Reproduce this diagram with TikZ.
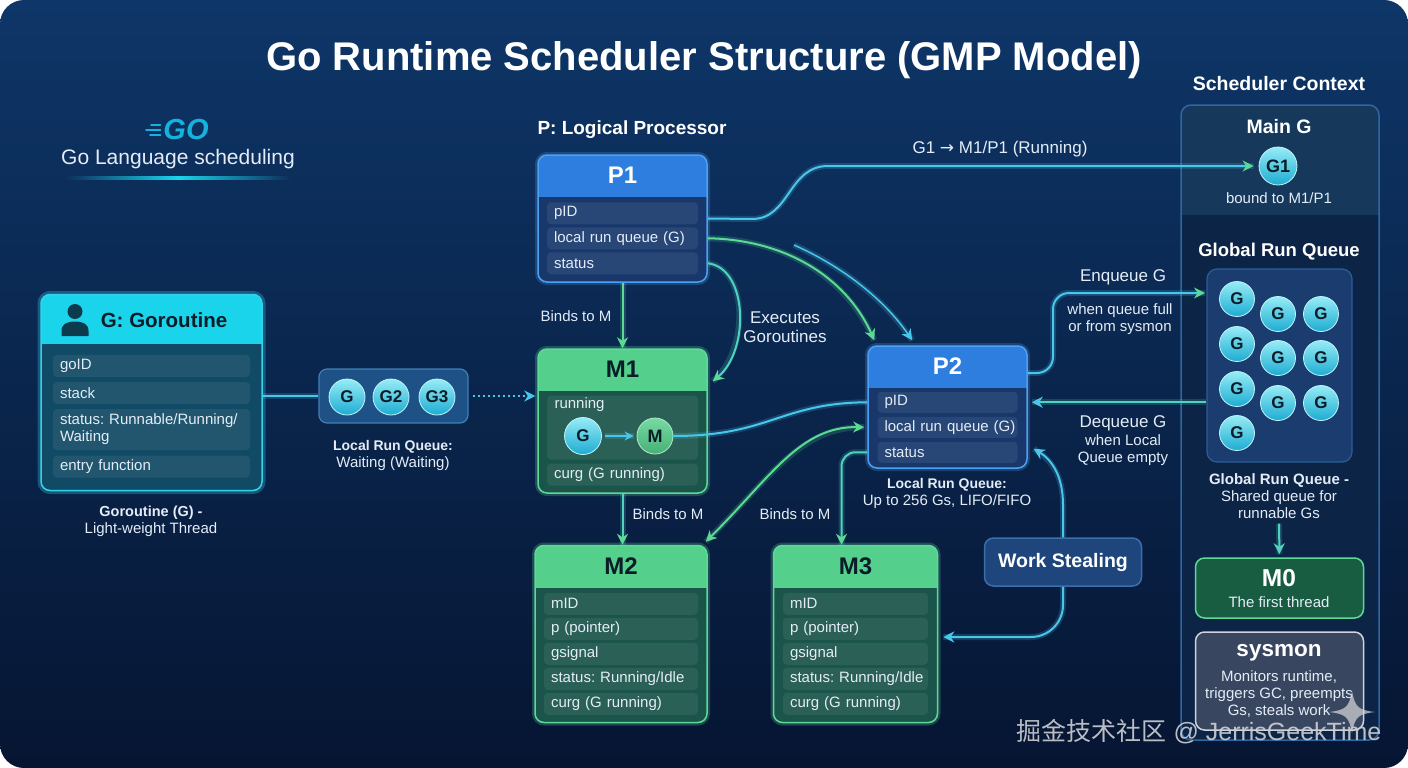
\documentclass[tikz,border=0pt]{standalone}
\usepackage{fontspec}
\setmainfont{Liberation Sans}
\newfontfamily\cjkfont{Noto Sans CJK SC}
\newfontfamily\symbfont{DejaVu Sans}
\usepackage{tikz}
\usetikzlibrary{positioning, arrows.meta, calc}
\frenchspacing

\newcommand\fsz[2]{\fontsize{#1}{#2}\selectfont}

\definecolor{bgtop}{RGB}{14,54,104}
\definecolor{bgbot}{RGB}{6,21,50}
\definecolor{phead}{RGB}{46,126,224}
\definecolor{pbody}{RGB}{24,56,108}
\definecolor{pline}{RGB}{78,160,240}
\definecolor{mhead}{RGB}{84,208,140}
\definecolor{mbody}{RGB}{27,84,74}
\definecolor{mline}{RGB}{94,218,152}
\definecolor{ghead}{RGB}{26,212,236}
\definecolor{gbody}{RGB}{17,74,100}
\definecolor{gborder}{RGB}{54,210,236}
\definecolor{gicon}{RGB}{14,58,78}
\definecolor{darktxt}{RGB}{10,28,40}
\definecolor{fieldtxt}{RGB}{228,237,247}
\definecolor{arrgreen}{RGB}{90,218,146}
\definecolor{arrcyan}{RGB}{74,198,234}
\definecolor{arrteal}{RGB}{80,210,190}
\definecolor{ballhi}{RGB}{150,236,246}
\definecolor{balllo}{RGB}{30,172,210}
\definecolor{gobrand}{RGB}{20,178,220}
\definecolor{lrqbody}{RGB}{30,82,134}
\definecolor{lrqline}{RGB}{64,128,182}
\definecolor{ctxbody}{RGB}{12,36,70}
\definecolor{ctxtop}{RGB}{22,56,90}
\definecolor{ctxline}{RGB}{46,104,164}
\definecolor{grqbody}{RGB}{26,60,110}
\definecolor{grqline}{RGB}{42,94,152}
\definecolor{m0body}{RGB}{24,92,66}
\definecolor{sysbody}{RGB}{56,70,96}
\definecolor{sysline}{RGB}{206,212,222}
\definecolor{stealbody}{RGB}{30,70,124}
\definecolor{stealline}{RGB}{60,110,170}
\definecolor{wmgray}{RGB}{206,208,212}

\tikzset{
    >={Stealth[length=11pt, width=11pt]},
    every node/.style={text=white},
    cardbase/.style={line width=1.5pt, rounded corners=9pt, inner sep=0pt},
    headfill/.style 2 args={path picture={\fill[#1, sharp corners] (path picture bounding box.north west) rectangle ([yshift=-#2]path picture bounding box.north east);}},
    pcard/.style={cardbase, draw=pline, fill=pbody, headfill={phead}{42pt}, preaction={draw=pline, draw opacity=.25, line width=6pt}},
    mcard/.style={cardbase, draw=mline, fill=mbody, headfill={mhead}{42pt}, preaction={draw=mline, draw opacity=.25, line width=6pt}},
    gcard/.style={cardbase, draw=gborder, fill=gbody, headfill={ghead}{49pt}, preaction={draw=gborder, draw opacity=.3, line width=7pt}},
    cardtitle/.style={font=\bfseries\fsz{24}{28}},
    field/.style={fill=white, fill opacity=.07, text opacity=1, rounded corners=4pt, minimum height=22pt, inner xsep=7pt, inner ysep=0pt, text width=#1, align=left, font=\fsz{15}{17}, text=fieldtxt},
    gball/.style={circle, draw=ballhi!60!white, line width=.8pt, top color=ballhi, bottom color=balllo, minimum size=35pt, inner sep=0pt, font=\bfseries\fsz{17}{20}, text=darktxt},
    mball/.style={circle, draw=mline!50!white, line width=.8pt, top color=mhead!80!white, bottom color=mhead!85!black, minimum size=36pt, inner sep=0pt, font=\bfseries\fsz{18}{20}, text=darktxt},
    glow/.style={preaction={draw=#1, draw opacity=.2, line width=6pt, -}},
    greenwire/.style={draw=arrgreen, line width=2pt, glow=arrgreen},
    cyanwire/.style={draw=arrcyan, line width=2pt, glow=arrcyan},
    tealwire/.style={draw=arrteal, line width=2pt, glow=arrteal},
    togreen/.style={-{Stealth[length=11pt, width=11pt, color=arrgreen]}},
    tocyan/.style={-{Stealth[length=11pt, width=11pt, color=arrcyan]}},
    lbl/.style={font=\fsz{15}{17}, text=fieldtxt, align=center, inner sep=1pt},
}

\begin{document}
\begin{tikzpicture}[x=1pt, y=-1pt]
    \useasboundingbox (0,0) rectangle (1408,768);
    % background
    \fill[white] (0,0) rectangle (1408,768);
    \shade[top color=bgtop, bottom color=bgbot, rounded corners=24pt] (0,0) rectangle (1408,768);

    % title and logo
    \node[font=\bfseries\fsz{40}{48}] (title) at (704,60) {Go Runtime Scheduler Structure (GMP Model)};
    \node[font=\bfseries\itshape\fsz{29}{32}, text=gobrand, inner sep=0pt] (golog) at (186,130) {GO};
    \foreach \dy/\len in {-5/10, 0/14, 5/9}
        \draw[gobrand, line width=2.2pt, line cap=round] ([xshift=-3pt, yshift=\dy pt]golog.west) -- ++(-\len,0);
    \node[font=\fsz{21}{24}, text=fieldtxt] (golang) at (178,159) {Go Language scheduling};
    \shade[left color=bgtop!78!bgbot, right color=bgtop!78!bgbot, middle color=ghead] (66,176.5) rectangle (290,179.5);

    % P1
    \node[font=\bfseries\fsz{19}{22}] (plbl) at (632,130) {P: Logical Processor};
    \node[pcard, minimum width=169pt, minimum height=127pt] (p1) at (622.5,218.5) {};
    \node[cardtitle] (p1t) at ([yshift=-21pt]p1.north) {P1};
    \foreach \t [count=\i] in {pID, local run queue (G), status}
        \node[field=137pt] (p1f\i) at ($(p1.north)+(0,34+25*\i)$) {\mbox{\t}};

    % M1
    \node[mcard, minimum width=169pt, minimum height=144pt] (m1) at (622.5,421) {};
    \node[cardtitle, text=darktxt] (m1t) at ([yshift=-21pt]m1.north) {M1};
    \node[field=137pt, minimum height=64pt] (m1run) at (622.5,427.5) {};
    \node[font=\fsz{15}{18}, text=fieldtxt, anchor=west] (m1runlbl) at (551,405) {running};
    \node[gball, minimum size=37pt] (mg) at (583,436) {G};
    \node[mball] (mm) at (655,436) {M};
    \node[field=137pt] (m1f2) at (622.5,474.5) {\mbox{curg (G running)}};

    % M2 and M3
    \node[mcard, minimum width=172pt, minimum height=177pt] (m2) at (621,634) {};
    \node[mcard, minimum width=164pt, minimum height=177pt] (m3) at (855.5,634) {};
    \foreach \m/\w/\n in {m2/140pt/M2, m3/131pt/M3} {
        \node[cardtitle, text=darktxt] (\m t) at ([yshift=-21pt]\m.north) {\n};
        \foreach \t [count=\i] in {mID, p (pointer), gsignal, status: Running/Idle, curg (G running)}
            \node[field=\w] (\m f\i) at ($(\m.north)+(0,34+25*\i)$) {\mbox{\t}};
    }

    % P2
    \node[pcard, minimum width=159pt, minimum height=122pt] (p2) at (947.5,407) {};
    \node[cardtitle] (p2t) at ([yshift=-21pt]p2.north) {P2};
    \foreach \t [count=\i] in {pID, local run queue (G), status}
        \node[field=126pt, minimum height=21pt] (p2f\i) at ($(p2.north)+(0,32+25*\i)$) {\mbox{\t}};
    \node[lbl] (p2lbl) at (947,493) {{\bfseries\fsz{14}{17}Local Run Queue:}\\Up to 256 Gs, LIFO/FIFO};

    % G: Goroutine
    \node[gcard, minimum width=221pt, minimum height=196pt] (gbox) at (151.5,392.5) {};
    \fill[gicon] (75,311.5) circle (7.5pt);
    \fill[gicon] (61.5,336) -- (61.5,331) .. controls (61.5,324) and (67,321.5) .. (75,321.5) .. controls (83,321.5) and (88.5,324) .. (88.5,331) -- (88.5,336) -- cycle;
    \node[font=\bfseries\fsz{20.5}{24}, text=darktxt] (gt) at (164,320) {G: Goroutine};
    \node[field=183pt] (gf1) at (151.5,366) {goID};
    \node[field=183pt] (gf2) at (151.5,393) {stack};
    \node[field=183pt, minimum height=41pt] (gf3) at (151.5,429.5) {status: Runnable/Running/\\Waiting};
    \node[field=183pt] (gf4) at (151.5,466.5) {entry function};
    \node[lbl] (glbl) at (151,521.5) {{\bfseries\fsz{14.5}{17}Goroutine (G) -}\\Light-weight Thread};

    % local run queue
    \node[draw=lrqline, fill=lrqbody, line width=1.2pt, rounded corners=8pt, minimum width=149pt, minimum height=54pt] (lrq) at (393.5,396) {};
    \foreach \t/\x in {G/347, G2/391, G3/437}
        \node[gball, minimum size=36pt] (lq\t) at (\x,397) {\t};
    \node[lbl] (lrqlbl) at (393,455.5) {{\bfseries\fsz{14}{17}Local Run Queue:}\\Waiting (Waiting)};

    % scheduler context
    \node[font=\bfseries\fsz{19.5}{22}] (ctxt) at (1279,84) {Scheduler Context};
    \node[draw=ctxline, fill=ctxbody, line width=1.5pt, rounded corners=10pt, minimum width=198pt, minimum height=635pt, headfill={ctxtop}{110pt}] (ctx) at (1280,422.5) {};
    \node[font=\bfseries\fsz{19.5}{22}] (maing) at (1279,127) {Main G};
    \node[gball, minimum size=38pt, font=\bfseries\fsz{18}{20}] (g1) at (1278,166) {G1};
    \node[lbl] (g1lbl) at (1279,198) {bound to M1/P1};
    \node[font=\bfseries\fsz{18.5}{22}] (grqt) at (1279,252) {Global Run Queue};
    \node[draw=grqline, fill=grqbody, line width=1.2pt, rounded corners=10pt, minimum width=145pt, minimum height=193pt] (grq) at (1279.5,365.5) {};
    \foreach \x/\y [count=\i] in {1237/299, 1237/344, 1237/389, 1237/433, 1278/314, 1278/358, 1278/403, 1321/314, 1321/358, 1321/403}
        \node[gball] (gq\i) at (\x,\y) {G};
    \node[lbl] (grqlbl) at (1279,496) {{\bfseries\fsz{15}{17}Global Run Queue -}\\Shared queue for\\runnable Gs};
    \node[draw=mline, fill=m0body, line width=1.5pt, rounded corners=9pt, minimum width=168pt, minimum height=60pt] (m0) at (1279.5,588) {};
    \node[font=\bfseries\fsz{24.5}{28}] (m0t) at (1279,578) {M0};
    \node[lbl] (m0lbl) at (1279,602) {The first thread};
    \node[draw=sysline, fill=sysbody, line width=1.5pt, rounded corners=9pt, minimum width=168pt, minimum height=98pt] (sysmon) at (1279.5,681) {};
    \node[font=\bfseries\fsz{22.5}{26}] (syst) at (1279,653) {sysmon};
    \node[lbl] (syslbl) at (1279,694) {Monitors runtime,\\triggers GC, preempts\\Gs, steals work};

    % work stealing
    \node[draw=stealline, fill=stealbody, line width=1.5pt, rounded corners=9pt, minimum width=157pt, minimum height=48pt, font=\bfseries\fsz{19.5}{22}] (steal) at (1063,562) {Work Stealing};

    % connectors
    \draw[cyanwire, togreen, shorten >=5pt] (p1.east) -- (752,219) .. controls (790,219) and (788,166) .. (828,166) -- (g1);
    \node[lbl, font=\fsz{17}{20}] (g1run) at (1000,149) {G1 {\symbfont →} M1/P1 (Running)};
    \draw[greenwire, ->] (p1.south) -- (m1.north);
    \node[lbl] (bind1) at (576,316) {Binds to M};
    \draw[tealwire, togreen] (p1.east |- p1f3) .. controls (748,268) and (750,350) .. ([xshift=5pt, yshift=14pt]m1.east |- m1run.north);
    \node[lbl, font=\fsz{17}{19}] (exec) at (785,327) {Executes\\Goroutines};
    \draw[greenwire, ->] (p1.east |- p1f2) .. controls (795,240) and (850,285) .. ([xshift=7pt, yshift=5pt]p2.north west);
    \coordinate (comet) at (794,245);
    \draw[cyanwire, line width=1.5pt, ->] (comet) .. controls (850,270) and (888,305) .. ([xshift=45pt, yshift=5pt]p2.north west);
    \draw[cyanwire] (mm.east) .. controls (770,436) and (780,403) .. (p2.west |- p2f1);
    \draw[greenwire, <->] ([xshift=-2pt, yshift=3pt]m2.north east) .. controls (770,478) and (800,426) .. ([xshift=-3pt]p2.west |- p2f2);
    \draw[tealwire, togreen, rounded corners=14pt] (p2.west |- p2f3) -| ([xshift=-14pt]m3.north);
    \draw[tealwire, togreen] (m1.south) -- (m1.south |- m2.north);
    \node[lbl] (bind2) at (668,514) {Binds to M};
    \node[lbl] (bind3) at (795,514) {Binds to M};
    \draw[cyanwire, ->] (steal.north) -- (1063,505) .. controls (1063,476) and (1052,460) .. ([xshift=6pt, yshift=20pt]p2.south east);
    \draw[cyanwire, ->, rounded corners=32pt] (steal.south) |- ([xshift=5pt, yshift=-3pt]m3.east);
    \coordinate (enq) at (1205,293);
    \draw[cyanwire, togreen, rounded corners=16pt] ([yshift=34pt]p2.east) -| (1053,293) -- (enq);
    \node[lbl, font=\fsz{17}{20}] (enqlbl) at (1123,277) {Enqueue G};
    \node[lbl] (enqwhen) at (1120,319) {when queue full\\or from sysmon};
    \draw[tealwire, tocyan] (grq.west |- p2f1) -- ([xshift=4pt]p2.east |- p2f1);
    \node[lbl, font=\fsz{17}{20}] (deqlbl) at (1123,423) {Dequeue G};
    \node[lbl] (deqwhen) at (1123,450) {when Local\\Queue empty};
    \draw[cyanwire] (gbox.east |- lrq.west) -- (lrq.west);
    \draw[arrcyan, line width=2pt, dash pattern=on 2pt off 3pt, ->, shorten <=4pt] (lrq.east) -- ([xshift=-2pt]m1.west |- lrq.east);
    \draw[cyanwire, -{Stealth[length=9pt, width=9pt]}, shorten <=3pt, shorten >=3pt] (mg) -- (mm);
    \draw[tealwire, ->, shorten <=4pt, shorten >=3pt] (grqlbl) -- (m0);

    % watermark
    \node[font=\fsz{25}{28}, text=wmgray, text opacity=.9] (wm) at (1199,732) {{\cjkfont 掘金技术社区} @ JerrisGeekTime};
    \fill[wmgray, opacity=.75] (1352,691) .. controls (1355,707) and (1358,710) .. (1375,712) .. controls (1358,714) and (1355,717) .. (1352,733) .. controls (1349,717) and (1346,714) .. (1329,712) .. controls (1346,710) and (1349,707) .. (1352,691) -- cycle;
\end{tikzpicture}
\end{document}
